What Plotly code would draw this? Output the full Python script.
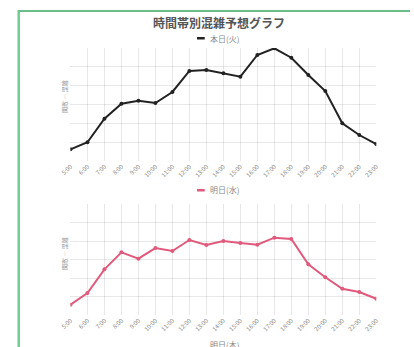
import plotly.graph_objects as go

W, H = 414, 347

hours = ["5:00", "6:00", "7:00", "8:00", "9:00", "10:00", "11:00", "12:00", "13:00", "14:00",
         "15:00", "16:00", "17:00", "18:00", "19:00", "20:00", "21:00", "22:00", "23:00"]
today = [12.4, 19.9, 44.9, 60.8, 64.0, 61.6, 73.3, 95.6, 96.6, 93.1,
         89.5, 112.6, 119.7, 109.7, 91.3, 74.3, 40.0, 27.6, 18.0]
tomorrow = [11.1, 23.8, 49.4, 67.8, 60.9, 72.4, 69.2, 81.1, 75.7, 80.0,
            77.8, 76.0, 83.6, 82.2, 54.8, 40.8, 28.4, 24.9, 17.6]

title = "時間帯別混雑予想グラフ"
label_today = "本日(火)"
label_tomorrow = "明日(水)"
label_next = "明日(木)"
ytitle = "閑散 ― 混雑"

FONT = "Noto Sans CJK JP, Noto Sans, sans-serif"
BLACK = "#222222"
PINK = "#e05a7c"
GRID = "rgba(0,0,0,0.09)"
TXT = "#888888"


def px(x):
    return x / W


def py(y):
    return 1 - y / H


fig = go.Figure()
x_idx = list(range(len(hours)))
fig.add_trace(go.Scatter(x=x_idx, y=today, mode="lines+markers", xaxis="x", yaxis="y",
                         line=dict(color=BLACK, width=2), marker=dict(color=BLACK, size=4),
                         showlegend=False, hoverinfo="skip"))
fig.add_trace(go.Scatter(x=x_idx, y=tomorrow, mode="lines+markers", xaxis="x2", yaxis="y2",
                         line=dict(color=PINK, width=2), marker=dict(color=PINK, size=4),
                         showlegend=False, hoverinfo="skip"))

xdom = [px(61.7), px(379)]
xcommon = dict(domain=xdom, range=[0, len(hours) - 1], tickmode="array", tickvals=x_idx,
               ticktext=hours, tickangle=-45, tickfont=dict(size=6, color=TXT, family=FONT),
               showgrid=True, gridcolor=GRID, gridwidth=1, zeroline=False, showline=False,
               ticks="", ticklen=0)
ycommon = dict(range=[0, 120], dtick=20, showticklabels=False, showgrid=True, gridcolor=GRID,
               zeroline=False, showline=False, ticks="")

fig.update_layout(
    width=W, height=H, margin=dict(l=0, r=0, t=0, b=0),
    paper_bgcolor="white", plot_bgcolor="white",
    font=dict(family=FONT),
    xaxis=dict(anchor="y", **xcommon),
    yaxis=dict(domain=[py(161), py(48)], anchor="x", **ycommon),
    xaxis2=dict(anchor="y2", **xcommon),
    yaxis2=dict(domain=[py(315), py(204)], anchor="x2", **ycommon),
)

shapes = [
    dict(type="line", xref="paper", yref="paper", x0=px(7), x1=1, y0=py(11), y1=py(11),
         line=dict(color="#3aa860", width=1.5)),
    dict(type="line", xref="paper", yref="paper", x0=px(8), x1=px(8), y0=py(11), y1=0,
         line=dict(color="#6fcf8f", width=2.5)),
    dict(type="rect", xref="paper", yref="paper", x0=px(193), x1=px(201), y0=py(39.5), y1=py(37),
         fillcolor=BLACK, line=dict(width=0)),
    dict(type="rect", xref="paper", yref="paper", x0=px(193), x1=px(201), y0=py(191.5), y1=py(189),
         fillcolor=PINK, line=dict(width=0)),
]
fig.update_layout(shapes=shapes)

ann = [
    dict(text="<b>" + title + "</b>", x=px(216), y=py(22), font=dict(size=12, color="#555555")),
    dict(text=label_today, x=px(204), y=py(38), xanchor="left", font=dict(size=8, color=TXT)),
    dict(text=label_tomorrow, x=px(204), y=py(190), xanchor="left", font=dict(size=8, color=TXT)),
    dict(text=label_next, x=px(204), y=py(344), xanchor="left", font=dict(size=8, color=TXT)),
    dict(text=ytitle, x=px(55), y=py(97), textangle=-90, font=dict(size=6, color="#999999")),
    dict(text=ytitle, x=px(55), y=py(254), textangle=-90, font=dict(size=6, color="#999999")),
]
for a in ann:
    a.update(xref="paper", yref="paper", showarrow=False)
    a.setdefault("xanchor", "center")
    a.setdefault("yanchor", "middle")
fig.update_layout(annotations=ann)

fig.write_html("out.html")
